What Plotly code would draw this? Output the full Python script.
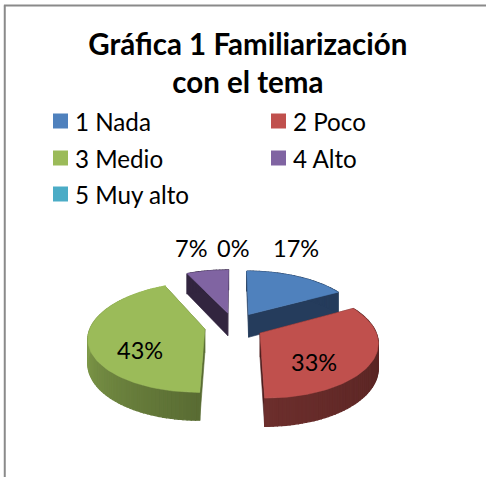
import math
import plotly.graph_objects as go

categories = ["1 Nada", "2 Poco", "3 Medio", "4 Alto", "5 Muy alto"]
values = [17, 33, 43, 7, 0]
top_colors = ["#4f81bd", "#c0504d", "#9bbb59", "#8064a2", "#4bacc6"]
title_lines = ["Gráfica 1 Familiarización", "con el tema"]

FONT = "Lato, Carlito, 'Open Sans', sans-serif"
CX, CY, RX, RY, K, EXPL, DEPTH = 234, 326, 114, 53, 0.148, 0.26, 23.5
SIDE = {0: ("#253c5c", "#253c5c"), 1: ("#4d1f1e", "#6c2e2c"),
        2: ("#596c33", "#9fc05c"), 3: ("#32253f", "#32253f")}
WALL = {0: "#253c5c", 1: "#4d1f1e", 2: "#596c33", 3: "#32253f"}
LEGEND_POS = [(60.5, 121), (278.5, 121), (60.5, 158), (278.5, 158), (60.5, 194)]


def mix(a, b, t):
    ca = [int(a[i:i + 2], 16) for i in (1, 3, 5)]
    cb = [int(b[i:i + 2], 16) for i in (1, 3, 5)]
    return "rgb(%d,%d,%d)" % tuple(round(p + (q - p) * t) for p, q in zip(ca, cb))


def proj(u, v, z=0.0):
    s = 1 / (1 + K * v)
    return CX + RX * u * s, CY - RY * v * s + DEPTH * s * z


def poly(pts, color, lw=0.6):
    return go.Scatter(x=[p[0] for p in pts] + [pts[0][0]], y=[p[1] for p in pts] + [pts[0][1]],
                      mode="lines", fill="toself", fillcolor=color,
                      line=dict(color=color, width=lw), hoverinfo="skip", showlegend=False)


total = sum(values)
slices = []
start = 0.0
for i, val in enumerate(values):
    sweep = 2 * math.pi * val / total
    slices.append((i, start, start + sweep))
    start += sweep

fig = go.Figure()
for i, a0, a1 in [slices[j] for j in (0, 3, 2, 1)]:
    mid = (a0 + a1) / 2
    ox, oy = EXPL * math.sin(mid), EXPL * math.cos(mid)
    n = max(4, int((a1 - a0) * 32))
    angs = [a0 + (a1 - a0) * t / n for t in range(n + 1)]
    rim = [(ox + math.sin(a), oy + math.cos(a)) for a in angs]
    for p in (rim[0], rim[-1]):
        fig.add_trace(poly([proj(ox, oy), proj(*p), proj(*p, 1), proj(ox, oy, 1)], WALL[i]))
    for t in range(n):
        p, q = rim[t], rim[t + 1]
        fig.add_trace(poly([proj(*p), proj(*q), proj(*q, 1), proj(*p, 1)],
                           mix(SIDE[i][0], SIDE[i][1], (t + 0.5) / n), lw=1.2))
    fig.add_trace(poly([proj(*p) for p in [(ox, oy)] + rim], top_colors[i]))

# legend keys and labels
annotations = []
for name, col, (lx, ly) in zip(categories, top_colors, LEGEND_POS):
    fig.add_trace(go.Scatter(x=[lx], y=[ly], mode="markers", name=name, showlegend=False, hoverinfo="name",
                             marker=dict(symbol="square", size=15, color=col, line=dict(width=0))))
    annotations.append(dict(x=lx + 12, y=ly, xref="x", yref="y", xanchor="left", text=name, showarrow=False,
                            font=dict(family=FONT, size=24.2, color="#000000")))

label_pos = [(296, 248), (314, 362), (140, 350), (191, 248), (233, 248)]
annotations += [dict(x=x, y=y, xref="x", yref="y", text=f"{round(100 * v / total)}%", showarrow=False,
                     font=dict(family=FONT, size=23.5, color="#000000"))
                for v, (x, y) in zip(values, label_pos)]

fig.update_layout(
    width=486, height=477, margin=dict(l=0, r=0, t=0, b=0),
    paper_bgcolor="white", plot_bgcolor="white", showlegend=False,
    xaxis=dict(range=[0, 486], visible=False, fixedrange=True),
    yaxis=dict(range=[477, 0], visible=False, fixedrange=True),
    title=dict(text="<b>" + "<br>".join(title_lines) + "</b>", x=0.51, xanchor="center", xref="paper",
               y=0.885, yanchor="top", font=dict(family=FONT, size=29.5, color="#000000")),
    annotations=annotations,
    shapes=[dict(type="line", xref="paper", yref="paper", x0=0.008, x1=1, y0=0.9885, y1=0.9885,
                 line=dict(color="#8a8a8a", width=2)),
            dict(type="line", xref="paper", yref="paper", x0=0.0098, x1=0.0098, y0=0, y1=0.9885,
                 line=dict(color="#8a8a8a", width=2))],
)
fig.write_html("out.html", config=dict(displayModeBar=False),
               post_script="document.body.style.margin='0';document.body.style.overflow='hidden';")
